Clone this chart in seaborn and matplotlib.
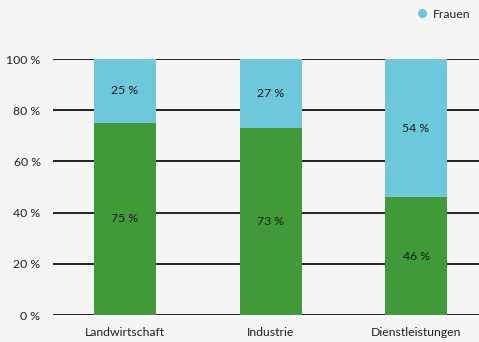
import matplotlib
matplotlib.use("Agg")
import matplotlib.pyplot as plt
import seaborn as sns
import pandas as pd
from matplotlib.lines import Line2D

categories = ["Landwirtschaft", "Industrie", "Dienstleistungen"]
maenner = [75, 73, 46]
frauen = [25, 27, 54]
yticks = [0, 20, 40, 60, 80, 100]

BG = "#f5f5f5"
BLUE = "#6ec8db"
GREEN = "#3f9a37"
FS = 8.8

sns.set_theme(style="white")
plt.rcParams["font.family"] = ["Lato", "DejaVu Sans"]

fig = plt.figure(figsize=(4.79, 3.42), dpi=100, facecolor=BG)
ax = fig.add_axes([53/479, 1 - 315/342, 1 - 53/479, 256/342])
ax.set_facecolor(BG)

df = pd.DataFrame({"cat": categories, "m": maenner, "f": frauen})
df["total"] = df["m"] + df["f"]

for y in yticks:
    ax.axhline(y, color="#111111", lw=1.3, zorder=0)

sns.barplot(data=df, x="cat", y="total", color=BLUE, saturation=1, width=0.426,
            linewidth=0, edgecolor="none", ax=ax, zorder=2)
sns.barplot(data=df, x="cat", y="m", color=GREEN, saturation=1, width=0.426,
            linewidth=0, edgecolor="none", ax=ax, zorder=3)

for i, (m, f) in enumerate(zip(maenner, frauen)):
    ax.text(i, m / 2, f"{m} %", ha="center", va="center", fontsize=FS, color="#1a1a1a", zorder=4)
    ax.text(i, m + f / 2, f"{f} %", ha="center", va="center", fontsize=FS, color="#1a1a1a", zorder=4)

ax.set_xlim(-0.495, 2.433)
ax.set_ylim(0, 100)
ax.set_yticks(yticks)
ax.set_yticklabels([f"{v} %" for v in yticks], fontsize=FS, color="#222222")
ax.tick_params(axis="y", length=0, pad=9)
ax.tick_params(axis="x", length=0, pad=9, labelsize=FS, labelcolor="#222222")
ax.set_xlabel("")
ax.set_ylabel("")
for s in ax.spines.values():
    s.set_visible(False)

handle = Line2D([0], [0], marker="o", color="none", markerfacecolor=BLUE,
                markeredgecolor=BLUE, markersize=5.5)
fig.legend([handle], ["Frauen"], loc="upper right", bbox_to_anchor=(1.0, 1.0),
           frameon=False, fontsize=FS, handletextpad=0.3, handlelength=1.2,
           borderaxespad=0.3)

fig.savefig("out.png", dpi=100, facecolor=BG)
